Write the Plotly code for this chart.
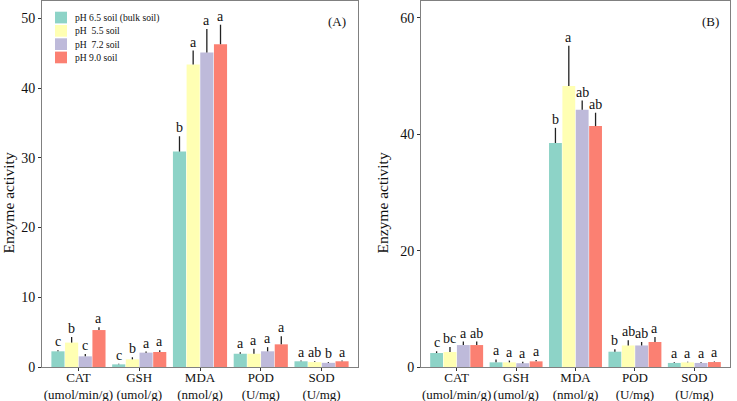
import plotly.graph_objects as go
from plotly.subplots import make_subplots

categories = ["CAT<br>(umol/min/g)", "GSH<br>(umol/g)", "MDA<br>(nmol/g)", "POD<br>(U/mg)", "SOD<br>(U/mg)"]
series_names = ["pH 6.5 soil (bulk soil)", "pH\u00a0 5.5 soil", "pH\u00a0 7.2 soil", "pH 9.0 soil"]
colors = ["#8DD3C7", "#FFFFB3", "#BEBADA", "#FB8072"]

# Panel A values (per series, across categories CAT, GSH, MDA, POD, SOD)
a_ph65 = [2.25, 0.38, 30.9, 1.9, 0.82]
a_ph55 = [3.5, 1.1, 43.4, 1.9, 0.7]
a_ph72 = [1.53, 2.06, 45.1, 2.25, 0.6]
a_ph90 = [5.3, 2.15, 46.3, 3.25, 0.82]
a_err65 = [0.15, 0.08, 2.2, 0.2, 0.1]
a_err55 = [0.8, 0.3, 2.0, 0.7, 0.12]
a_err72 = [0.35, 0.15, 3.4, 0.6, 0.12]
a_err90 = [0.4, 0.25, 2.8, 1.15, 0.1]
a_let65 = ["c", "c", "b", "a", "a"]
a_let55 = ["b", "b", "a", "a", "ab"]
a_let72 = ["c", "a", "a", "a", "b"]
a_let90 = ["a", "a", "a", "a", "a"]

# Panel B values
b_ph65 = [2.4, 0.8, 38.5, 2.63, 0.7]
b_ph55 = [2.57, 0.8, 48.3, 3.7, 0.8]
b_ph72 = [3.77, 0.65, 44.2, 3.7, 0.7]
b_ph90 = [3.77, 0.97, 41.4, 4.3, 0.85]
b_err65 = [0.3, 0.5, 2.6, 0.4, 0.1]
b_err55 = [0.85, 0.3, 6.9, 0.9, 0.1]
b_err72 = [0.6, 0.25, 1.6, 0.6, 0.1]
b_err90 = [0.6, 0.25, 2.3, 0.85, 0.1]
b_let65 = ["c", "a", "b", "b", "a"]
b_let55 = ["bc", "a", "a", "ab", "a"]
b_let72 = ["a", "a", "ab", "ab", "a"]
b_let90 = ["ab", "a", "ab", "a", "a"]

y_title = "Enzyme activity"

FONT = "Liberation Serif"
W, H = 737, 401
PH = 366  # plot area height in px (top margin 1)


def py(pix):
    """pixel row from top -> paper y"""
    return 1 - (pix - 1) / PH


panels = [
    dict(vals=[a_ph65, a_ph55, a_ph72, a_ph90], errs=[a_err65, a_err55, a_err72, a_err90],
         lets=[a_let65, a_let55, a_let72, a_let90], label="(A)"),
    dict(vals=[b_ph65, b_ph55, b_ph72, b_ph90], errs=[b_err65, b_err55, b_err72, b_err90],
         lets=[b_let65, b_let55, b_let72, b_let90], label="(B)"),
]

fig = make_subplots(rows=1, cols=2)
xpos = list(range(len(categories)))
slot = 0.9 / 4

annotations = []
for p, panel in enumerate(panels):
    col = p + 1
    xr = "x" if p == 0 else "x2"
    yr = "y" if p == 0 else "y2"
    for j in range(4):
        fig.add_trace(go.Bar(
            x=xpos, y=panel["vals"][j], name=series_names[j],
            marker=dict(color=colors[j], line=dict(width=0)),
            error_y=dict(type="data", symmetric=False, array=panel["errs"][j],
                         arrayminus=[0] * len(xpos), width=0, thickness=1.3, color="#222222"),
            showlegend=False,
        ), row=1, col=col)
        for i in xpos:
            annotations.append(dict(
                x=i + (j - 1.5) * slot, y=panel["vals"][j][i] + panel["errs"][j][i],
                xref=xr, yref=yr, text=panel["lets"][j][i], showarrow=False,
                yanchor="bottom", xanchor="center", yshift=-1,
                font=dict(family=FONT, size=14, color="#111111")))

# Panel labels
annotations.append(dict(x=337 / W, y=py(22), xref="paper", yref="paper", text="(A)",
                        xanchor="center", yanchor="middle",
                        showarrow=False, font=dict(family=FONT, size=13, color="#111111")))
annotations.append(dict(x=710 / W, y=py(22), xref="paper", yref="paper", text="(B)",
                        xanchor="center", yanchor="middle",
                        showarrow=False, font=dict(family=FONT, size=13, color="#111111")))

# Y axis titles
for xc in (8.5, 382.5):
    annotations.append(dict(x=xc / W, y=py(203), xref="paper", yref="paper", text=y_title,
                            textangle=-90, xanchor="center", yanchor="middle", showarrow=False,
                            font=dict(family=FONT, size=15.5, color="#111111")))

# Legend drawn inside panel A
shapes = []
for j in range(4):
    top = 11.7 + j * 13.3
    shapes.append(dict(type="rect", xref="paper", yref="paper",
                       x0=55 / W, x1=67 / W, y0=py(top), y1=py(top + 11.7),
                       fillcolor=colors[j], line=dict(width=0)))
    annotations.append(dict(x=72.5 / W, y=py(top + 5.85), xref="paper", yref="paper",
                            text=series_names[j], showarrow=False, xanchor="left", yanchor="middle",
                            font=dict(family=FONT, size=9.6, color="#111111")))

fig.update_layout(
    width=W, height=H,
    margin=dict(l=0, r=0, t=1, b=34),
    paper_bgcolor="white", plot_bgcolor="white",
    barmode="group", bargap=0.1, bargroupgap=0.04,
    font=dict(family=FONT, color="#111111"),
    annotations=annotations, shapes=shapes,
    showlegend=False,
)

axis_common = dict(showline=True, mirror=True, linecolor="#808080", linewidth=1,
                   ticks="outside", ticklen=3, tickcolor="#333333", showgrid=False,
                   zeroline=False, automargin=False)

fig.update_xaxes(**axis_common, range=[-0.6, 4.6], tickvals=xpos, ticktext=categories,
                 tickangle=0, ticklabelstandoff=-5,
                 tickfont=dict(family=FONT, size=13, color="#111111"))
fig.update_xaxes(domain=[42 / W, 358 / W], row=1, col=1)
fig.update_xaxes(domain=[421 / W, 730 / W], row=1, col=2)

fig.update_yaxes(**axis_common, tickfont=dict(family=FONT, size=14, color="#111111"))
fig.update_yaxes(range=[0, 52.5], tickvals=[0, 10, 20, 30, 40, 50], row=1, col=1)
fig.update_yaxes(range=[0, 62.9], tickvals=[0, 20, 40, 60], row=1, col=2)

fig.write_html("out.html", config={"displayModeBar": False},
               post_script="document.body.style.margin='0';")
